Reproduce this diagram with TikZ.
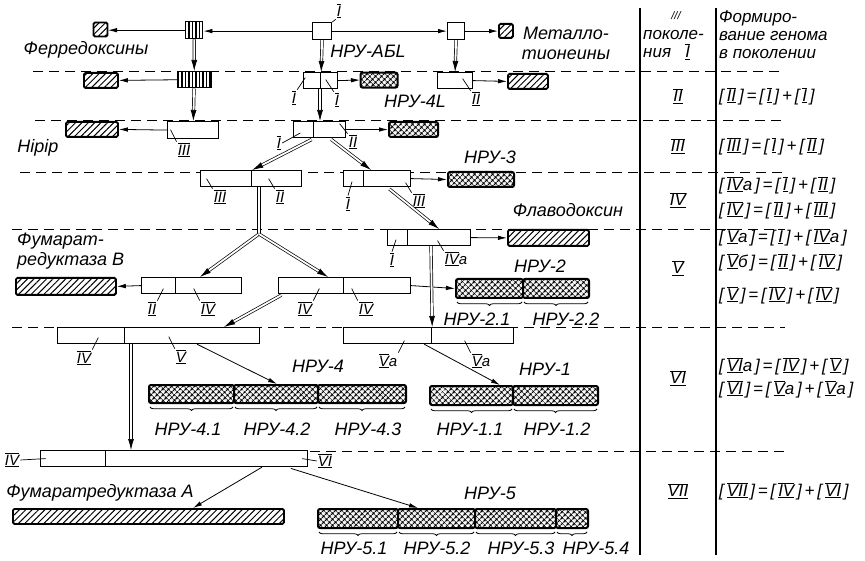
\documentclass[tikz,border=0pt]{standalone}
\usepackage{fontspec}
\setmainfont{Liberation Sans}
\usetikzlibrary{arrows.meta,calc,patterns.meta,decorations.pathreplacing}
\newcommand{\rn}[1]{$\underline{\overline{\mbox{#1}}}$}
\tikzset{
  seg/.style={draw,line width=1.2pt,fill=white,minimum height=16pt,inner sep=0pt,anchor=north west},
  hbox/.style={draw,line width=1.8pt,rounded corners=1.5pt,minimum height=15pt,inner sep=0pt,anchor=north west,preaction={fill=white},pattern={Lines[angle=45,distance=4.5pt,line width=1pt]}},
  xbox/.style={draw,line width=2pt,rounded corners=2pt,minimum height=18pt,inner sep=0pt,anchor=north west,preaction={fill=white},pattern={Hatch[angle=45,distance=4pt,line width=1.1pt]}},
  vbox/.style={draw,line width=1.5pt,minimum height=16pt,inner sep=0pt,anchor=north west,preaction={fill=white},pattern={Lines[angle=90,distance=3.5pt,line width=1.4pt]}},
  arr/.style={-{Latex[length=9pt,width=4.5pt]},line width=0.8pt},
  darr/.style={double,double distance=1.8pt,line width=0.7pt,-{Latex[length=11pt,width=6pt]}},
  dline/.style={double,double distance=1.8pt,line width=0.7pt},
  gen/.style={dash pattern=on 10pt off 6pt,line width=0.9pt},
  lbl/.style={font=\itshape\fontsize{18}{20}\selectfont,inner sep=1pt},
  num/.style={font=\itshape\fontsize{15}{17}\selectfont,inner sep=1pt},
  tab/.style={font=\itshape\fontsize{17}{18}\selectfont,inner sep=1pt},
  tk/.style={line width=0.7pt},
  brc/.style={decorate,decoration={brace,mirror,amplitude=3.5pt},line width=0.8pt}
}
\begin{document}
\begin{tikzpicture}[x=1pt,y=-1pt]
\useasboundingbox (0,0) rectangle (865,561);
\foreach \y/\xa in {71/33,120/35,172/20,229/12,327/12,451/310}
  \draw[gen] (\xa,\y) -- (785,\y);
\draw[line width=1.3pt] (640,8) -- (640,555);
\draw[line width=1.3pt] (716,8) -- (716,555);

% generation I
\node[hbox,minimum width=14pt,minimum height=14pt] (fd1) at (93,22) {};
\node[vbox,minimum width=17pt,minimum height=17pt] (vs1) at (185,21) {};
\node[seg,minimum width=19pt,minimum height=17pt] (g1) at (312,22) {};
\node[seg,minimum width=17pt,minimum height=17pt] (m1) at (447,22) {};
\node[hbox,minimum width=14pt,minimum height=14pt] (mt1) at (498,23) {};
\draw[arr] (g1.west) -- (vs1.east |- g1.west);
\draw[arr] (vs1.west) -- (fd1.east |- vs1.west);
\draw[arr] (g1.east) -- (m1.west |- g1.east);
\draw[arr] (m1.east) -- (mt1.west |- m1.east);
\node[num] (lg1) at (339,11) {\rn{I}};
\draw[tk] (g1.north east) -- (lg1.south west);
\node[lbl] (tfd) at (86,50) {Ферредоксины};
\node[lbl] (tabl) at (368,51) {НРУ-АБL};
\node[lbl,align=center] (tmt) at (566,43) {Металло-\\тионеины};

% generation II
\node[hbox,minimum width=34pt] (fd2) at (83,72) {};
\node[vbox,minimum width=33pt] (vs2) at (177,71) {};
\node[seg,minimum width=17pt] (a2) at (303,72) {};
\node[seg,minimum width=17pt] (b2) at (320,72) {};
\node[xbox,minimum width=37pt,minimum height=15pt] (x2) at (360,72) {};
\node[seg,minimum width=35pt] (c2) at (437,72) {};
\node[hbox,minimum width=40pt] (mt2) at (507,73) {};
\draw[darr] (vs1) -- (vs2);
\draw[darr] (g1.south) -- (a2.north east);
\draw[darr] (m1.south) -- (c2.north);
\draw[arr] (vs2.west) -- (fd2.east);
\draw[arr] (b2.east) -- (x2.west);
\draw[arr] (c2.east) -- (mt2.west);
\node[num] (la2) at (294,98) {\rn{I}};
\draw[tk] (la2.north east) -- ++(8,-12);
\node[num] (lb2) at (337,100) {\rn{I}};
\draw[tk] (lb2.north west) -- ++(-8,-12);
\node[num] (lc2) at (476,99) {\rn{II}};
\draw[tk] (lc2.north west) -- ++(-8,-12);
\node[lbl] (t4l) at (415,101) {НРУ-4L};

% generation III
\node[hbox,minimum width=52pt] (fd3) at (65,121) {};
\node[seg,minimum width=51pt,minimum height=17pt] (c3) at (167,121) {};
\node[seg,minimum width=20pt] (a3) at (293,121) {};
\node[seg,minimum width=32pt] (b3) at (313,121) {};
\node[xbox,minimum width=49pt,minimum height=15pt] (x3) at (388,121) {};
\draw[darr] (vs2) -- (c3);
\draw[darr] (b2.south west) -- (b2.south west |- b3.north);
\draw[arr] (c3.west) -- (fd3.east);
\draw[arr] (b3.east) -- (x3.west);
\node[num] (lc3) at (184,150) {\rn{III}};
\draw[tk] (lc3.north west) -- ++(-6,-12);
\node[num] (la3) at (279,143) {\rn{I}};
\draw[tk] (la3.east) -- ++(18,-10);
\node[num] (lb3) at (353,142) {\rn{II}};
\draw[tk] (lb3.north west) -- ++(-8,-10);
\node[lbl] (thip) at (38,148) {Hipip};

% generation IV
\node[seg,minimum width=51pt] (a4) at (200,170) {};
\node[seg,minimum width=50pt] (b4) at (251,170) {};
\node[seg,minimum width=20pt] (c4) at (343,170) {};
\node[seg,minimum width=47pt] (d4) at (363,170) {};
\node[xbox,minimum width=66pt,minimum height=15pt] (x4) at (447,171) {};
\draw[darr,shorten <=3pt] (a3.south east) -- (a4.north east);
\draw[darr,shorten <=2pt] (b3.south) -- ($(d4.north west)+(8,0)$);
\draw[arr] (d4.east) -- (x4.west);
\node[num] (la4) at (220,197) {\rn{III}};
\draw[tk] (la4.north west) -- ++(-6,-10);
\node[num] (lb4) at (280,197) {\rn{II}};
\draw[tk] (lb4.north west) -- ++(-6,-10);
\node[num] (lc4) at (348,204) {\rn{I}};
\draw[tk] (lc4.north) -- ++(4,-14);
\node[num] (ld4) at (419,201) {\rn{III}};
\draw[tk] (ld4.north west) -- ++(-6,-10);
\node[lbl] (t3) at (490,157) {НРУ-3};

% generation V
\node[seg,minimum width=20pt] (a5) at (387,229) {};
\node[seg,minimum width=63pt] (b5) at (407,229) {};
\node[hbox,minimum width=81pt,minimum height=16pt] (fl) at (507,229) {};
\draw[darr,shorten <=3pt] (d4.south) -- (b5.north);
\draw[arr] (b5.east) -- (fl.west);
\node[num] (la5) at (392,260) {\rn{I}};
\draw[tk] (la5.north) -- ++(4,-12);
\node[num] (lb5) at (456,259) {\rn{IV}a};
\draw[tk] (lb5.north west) -- ++(-6,-10);
\node[lbl] (tfl) at (568,210) {Флаводоксин};

\node[seg,minimum width=34pt] (c5) at (141,277) {};
\node[seg,minimum width=66pt] (d5) at (175,277) {};
\node[hbox,minimum width=100pt,minimum height=17pt] (fb) at (15,277) {};
\node[seg,minimum width=65pt] (e5) at (278,277) {};
\node[seg,minimum width=67pt] (f5) at (343,277) {};
\node[xbox,minimum width=67pt,minimum height=19pt] (n2a) at (455,278) {};
\node[xbox,minimum width=66pt,minimum height=19pt] (n2b) at (522,278) {};
\coordinate (sp) at (259,234);
\draw[dline] ($(b4.south west)+(8,0)$) -- (sp);
\draw[darr] (sp) -- ($(d5.north west)+(25,0)$);
\draw[darr] (sp) -- ($(e5.north west)+(50,0)$);
\draw[arr] (c5.west) -- (fb.east);
\draw[arr] (f5.east) -- (n2a.west);
\node[num] (lc5) at (152,309) {\rn{II}};
\draw[tk] (lc5.north east) -- ++(6,-12);
\node[num] (ld5) at (208,309) {\rn{IV}};
\draw[tk] (ld5.north west) -- ++(-6,-12);
\node[num] (le5) at (305,309) {\rn{IV}};
\draw[tk] (le5.north east) -- ++(6,-12);
\node[num] (lf5) at (366,309) {\rn{IV}};
\draw[tk] (lf5.north west) -- ++(-6,-12);
\node[lbl,align=left,anchor=west] (tfb) at (16,251) {Фумарат-\\редуктаза В};
\node[lbl] (t2) at (540,266) {НРУ-2};
\node[lbl] (t21) at (477,319) {НРУ-2.1};
\node[lbl] (t22) at (566,319) {НРУ-2.2};

% generation VI
\node[seg,minimum width=67pt] (a6) at (57,327) {};
\node[seg,minimum width=135pt] (b6) at (124,327) {};
\node[seg,minimum width=88pt] (c6) at (343,327) {};
\node[seg,minimum width=82pt] (d6) at (431,327) {};
\draw[darr,shorten <=2pt] ($(e5.south west)+(5,0)$) -- ($(b6.north west)+(100,0)$);
\draw[darr] ($(b5.south west)+(24,0)$) -- (c6.north east);
\node[xbox,minimum width=85pt] (n4a) at (148,384) {};
\node[xbox,minimum width=84pt] (n4b) at (233,384) {};
\node[xbox,minimum width=88pt] (n4c) at (317,384) {};
\node[xbox,minimum width=83pt,minimum height=19pt] (n1a) at (429,385) {};
\node[xbox,minimum width=85pt,minimum height=19pt] (n1b) at (512,385) {};
\draw[arr] ($(b6.south west)+(73,0)$) -- ($(n4b.north west)+(44,0)$);
\draw[arr] ($(c6.south east)+(-8,0)$) -- ($(n1a.north west)+(71,0)$);
\node[num] (la6) at (84,358) {\rn{IV}};
\draw[tk] (la6.north east) -- ++(6,-12);
\node[num] (lb6) at (181,357) {\rn{V}};
\draw[tk] (lb6.north west) -- ++(-6,-12);
\node[num] (lc6) at (388,361) {\rn{V}a};
\draw[tk] (lc6.north east) -- ++(6,-12);
\node[num] (ld6) at (481,361) {\rn{V}a};
\draw[tk] (ld6.north west) -- ++(-6,-12);
\node[lbl] (t4) at (318,366) {НРУ-4};
\node[lbl] (t1) at (545,369) {НРУ-1};
\node[lbl] (t41) at (188,429) {НРУ-4.1};
\node[lbl] (t42) at (277,429) {НРУ-4.2};
\node[lbl] (t43) at (368,429) {НРУ-4.3};
\node[lbl] (t11) at (470,429) {НРУ-1.1};
\node[lbl] (t12) at (557,429) {НРУ-1.2};

% generation VII
\node[seg,minimum width=65pt] (a7) at (40,450) {};
\node[seg,minimum width=202pt] (b7) at (105,450) {};
\draw[darr] ($(b6.south west)+(7,0)$) -- ($(b7.north west)+(26,0)$);
\node[hbox,minimum width=271pt] (fa) at (12,508) {};
\node[xbox,minimum width=80pt,minimum height=19pt] (n5a) at (317,508) {};
\node[xbox,minimum width=77pt,minimum height=19pt] (n5b) at (397,508) {};
\node[xbox,minimum width=81pt,minimum height=19pt] (n5c) at (474,508) {};
\node[xbox,minimum width=32pt,minimum height=19pt] (n5d) at (555,508) {};
\draw[arr] ($(b7.south west)+(157,0)$) -- ($(fa.north west)+(181,0)$);
\draw[arr,shorten <=4pt] ($(b7.south west)+(182,0)$) -- ($(n5b.north west)+(21,0)$);
\node[num] (la7) at (12,460) {\rn{IV}};
\draw[tk] (la7.east) -- ($(a7.west)+(6,0)$);
\node[num] (lb7) at (325,461) {\rn{VI}};
\draw[tk] (lb7.west) -- ($(b7.east)+(-6,0)$);
\node[lbl] (tfa) at (100,493) {Фумаратредуктаза А};
\node[lbl] (t5) at (490,493) {НРУ-5};
\node[lbl] (t51) at (354,548) {НРУ-5.1};
\node[lbl] (t52) at (437,548) {НРУ-5.2};
\node[lbl] (t53) at (521,548) {НРУ-5.3};
\node[lbl] (t54) at (596,548) {НРУ-5.4};
\foreach \n in {n2a,n2b,n4a,n4b,n4c,n1a,n1b,n5a,n5b,n5c,n5d}
  \draw[brc] ($(\n.south west)+(2,3)$) -- ($(\n.south east)+(-2,3)$);

% table
\node[tab,font=\itshape\fontsize{11}{12}\selectfont] (h0) at (676,16) {///};
\node[tab,align=left,anchor=west] (h1) at (642,45) {поколе-\\ния \ \ \rn{I}};
\node[tab,align=left,anchor=north west] (h2) at (718,10) {Формиро-\\вание генома\\в поколении};
\node[tab] (r2) at (678,96) {\rn{II}};
\node[tab] (r3) at (678,146) {\rn{III}};
\node[tab] (r4) at (678,200) {\rn{IV}};
\node[tab] (r5) at (678,268) {\rn{V}};
\node[tab] (r6) at (678,378) {\rn{VI}};
\node[tab] (r7) at (678,491) {\rn{VII}};
\node[tab,anchor=west] (f2) at (718,96) {[\,\rn{II}\,]\,=\,[\,\rn{I}\,]\,+\,[\,\rn{I}\,]};
\node[tab,anchor=west] (f3) at (718,146) {[\,\rn{III}\,]\,=\,[\,\rn{I}\,]\,+\,[\,\rn{II}\,]};
\node[tab,anchor=west] (f4a) at (718,185) {[\,\rn{IV}a\,]\,=\,[\,\rn{I}\,]\,+\,[\,\rn{II}\,]};
\node[tab,anchor=west] (f4) at (718,210) {[\,\rn{IV}\,]\,=\,[\,\rn{II}\,]\,+\,[\,\rn{III}\,]};
\node[tab,anchor=west] (f5a) at (718,237) {[\,\rn{V}a\,]\,=\,[\,\rn{I}\,]\,+\,[\,\rn{IV}a\,]};
\node[tab,anchor=west] (f5b) at (718,262) {[\,\rn{V}б\,]\,=\,[\,\rn{II}\,]\,+\,[\,\rn{IV}\,]};
\node[tab,anchor=west] (f5) at (718,295) {[\,\rn{V}\,]\,=\,[\,\rn{IV}\,]\,+\,[\,\rn{IV}\,]};
\node[tab,anchor=west] (f6a) at (718,366) {[\,\rn{VI}a\,]\,=\,[\,\rn{IV}\,]\,+\,[\,\rn{V}\,]};
\node[tab,anchor=west] (f6) at (718,389) {[\,\rn{VI}\,]\,=\,[\,\rn{V}a\,]\,+\,[\,\rn{V}a\,]};
\node[tab,anchor=west] (f7) at (718,491) {[\,\rn{VII}\,]\,=\,[\,\rn{IV}\,]\,+\,[\,\rn{VI}\,]};
\end{tikzpicture}
\end{document}
